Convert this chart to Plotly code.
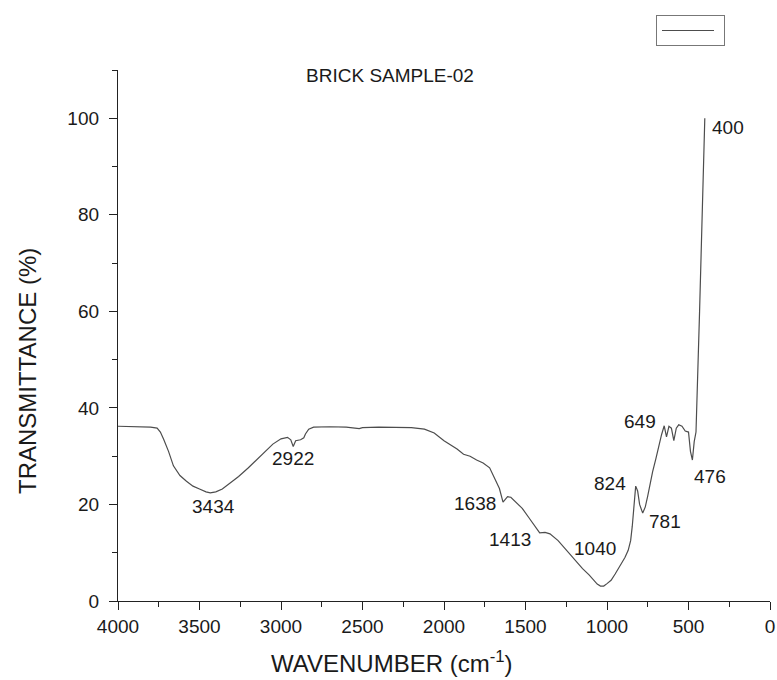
import plotly.graph_objects as go

# ---- data ----
wavenumber = [4000, 3900, 3800, 3760, 3740, 3720, 3690, 3660, 3620, 3580, 3540, 3500,
              3460, 3434, 3400, 3360, 3320, 3260, 3200, 3150, 3100, 3050, 3000, 2960,
              2940, 2925, 2910, 2880, 2860, 2850, 2830, 2800, 2700, 2600, 2520, 2500,
              2400, 2300, 2200, 2120, 2060, 2000, 1960, 1920, 1880, 1840, 1800, 1760,
              1720, 1690, 1660, 1638, 1610, 1590, 1560, 1520, 1480, 1440, 1413, 1380,
              1350, 1300, 1250, 1200, 1150, 1110, 1080, 1060, 1040, 1020, 1000, 975,
              950, 920, 890, 870, 855, 845, 835, 824, 812, 800, 781, 765, 750, 735,
              720, 700, 680, 665, 649, 635, 620, 605, 590, 575, 560, 540, 520, 500,
              488, 476, 465, 454, 432, 416, 400]
transmittance = [36.2, 36.1, 36.0, 35.8, 35.0, 33.5, 31.0, 28.0, 26.0, 24.8, 23.8, 23.2,
                 22.6, 22.4, 22.6, 23.2, 24.2, 25.8, 27.6, 29.3, 31.0, 32.5, 33.6, 33.9,
                 33.4, 32.0, 33.2, 33.4, 33.8, 34.6, 35.6, 36.0, 36.1, 36.0, 35.7, 35.9,
                 36.0, 36.0, 35.9, 35.6, 34.8, 33.2, 32.3, 31.5, 30.4, 30.0, 29.2, 28.6,
                 27.6, 25.5, 23.3, 20.5, 21.6, 21.5, 20.5, 19.2, 17.3, 15.3, 14.1, 14.2,
                 13.9, 12.5, 10.5, 8.5, 6.7, 5.4, 4.2, 3.5, 3.1, 3.1, 3.6, 4.3,
                 5.6, 7.2, 9.0, 10.5, 12.5, 15.5, 19.5, 23.8, 22.8, 20.0, 18.2, 19.5, 21.8, 24.5,
                 26.8, 29.5, 32.5, 34.5, 36.3, 34.0, 36.2, 35.8, 33.2, 35.8, 36.5, 36.2, 35.2, 35.0,
                 31.0, 29.2, 33.0, 35.0, 60.0, 80.0, 100.0]

peak_labels = ["3434", "2922", "1638", "1413", "1040", "824", "781", "649", "476", "400"]
label_x = [3417, 2926, 1810, 1595, 1074, 982, 644, 798, 368, 258]
label_y = [19.5, 29.6, 20.3, 12.8, 10.8, 24.4, 16.4, 37.1, 25.7, 98.0]

x_tickvals = [4000, 3500, 3000, 2500, 2000, 1500, 1000, 500, 0]
y_tickvals = [0, 20, 40, 60, 80, 100]

title_text = "BRICK SAMPLE-02"
x_title = "WAVENUMBER (cm<sup>-1</sup>)"
y_title = "TRANSMITTANCE (%)"

FONT = "Liberation Sans, Arial, sans-serif"
TXT = "#1a1a1a"
W, H = 777, 680
ML, MR, MT, MB = 118, 7, 70, 79
PW, PH = W - ML - MR, H - MT - MB

fig = go.Figure()
fig.add_trace(go.Scatter(
    x=wavenumber, y=transmittance, mode="lines",
    line=dict(color="#4d4d4d", width=1.2),
    name="", showlegend=True,
))

for t, lx, ly in zip(peak_labels, label_x, label_y):
    fig.add_annotation(x=lx, y=ly, text=t, showarrow=False,
                       font=dict(family=FONT, size=19, color=TXT))

# axis titles (offset from the plot centre as in the reference)
fig.add_annotation(xref="paper", yref="paper",
                   x=(392 - ML) / PW, y=(H - MB - 662) / PH,
                   text=x_title, showarrow=False, xanchor="center", yanchor="middle",
                   font=dict(family=FONT, size=24, color=TXT))
fig.add_annotation(xref="paper", yref="paper",
                   x=(28 - ML) / PW, y=(H - MB - 371) / PH,
                   text=y_title, showarrow=False, textangle=-90,
                   xanchor="center", yanchor="middle",
                   font=dict(family=FONT, size=24, color=TXT))

fig.update_layout(
    width=W, height=H,
    margin=dict(l=ML, r=MR, t=MT, b=MB, autoexpand=False),
    paper_bgcolor="white", plot_bgcolor="white",
    title=dict(text=title_text, x=390 / W, xanchor="center",
               xref="container", y=1 - 75 / H, yanchor="middle", yref="container",
               font=dict(family=FONT, size=19, color=TXT)),
    showlegend=True,
    legend=dict(x=(656 - ML) / PW, y=(H - MB - 15) / PH, xanchor="left", yanchor="top",
                bordercolor="#777777", borderwidth=1, bgcolor="white",
                font=dict(family=FONT, size=12), itemwidth=52),
    xaxis=dict(
        range=[4000, 0], autorange=False, automargin=False,
        tickmode="array", tickvals=x_tickvals, ticktext=[str(v) for v in x_tickvals],
        ticks="outside", ticklen=8, tickwidth=1.3, tickcolor="#222",
        minor=dict(dtick=250, ticks="outside", ticklen=5, tickwidth=1.3, tickcolor="#222"),
        showline=True, linecolor="#222", linewidth=1.3,
        showgrid=False, zeroline=False,
        tickfont=dict(family=FONT, size=19, color=TXT),
    ),
    yaxis=dict(
        range=[0, 110], autorange=False, automargin=False,
        tickmode="array", tickvals=y_tickvals, ticktext=[str(v) for v in y_tickvals],
        ticks="outside", ticklen=8, tickwidth=1.3, tickcolor="#222",
        minor=dict(dtick=10, tick0=0, ticks="outside", ticklen=5, tickwidth=1.3, tickcolor="#222"),
        showline=True, linecolor="#222", linewidth=1.3,
        showgrid=False, zeroline=False, ticklabelstandoff=6,
        tickfont=dict(family=FONT, size=19, color=TXT),
    ),
)

fig.write_html("out.html", config={"displayModeBar": False},
               post_script="document.body.style.margin='0px';")
